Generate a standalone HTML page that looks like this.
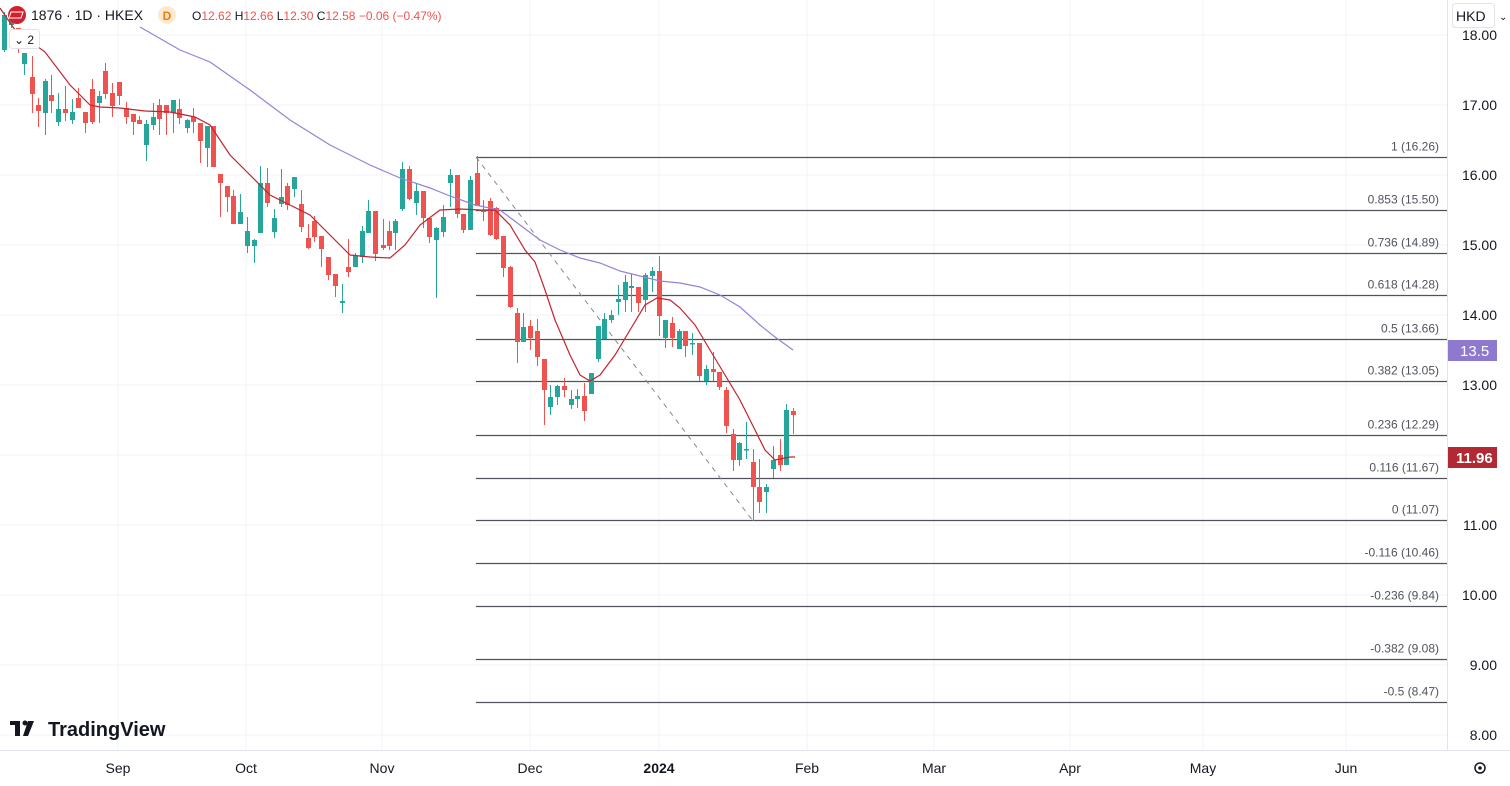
<!DOCTYPE html>
<html><head><meta charset="utf-8"><style>
body{margin:0;width:1510px;height:786px;overflow:hidden;background:#fff;font-family:"Liberation Sans",sans-serif}
svg{position:absolute;left:0;top:0}
</style></head><body>
<svg id="s" width="1510" height="786" xmlns="http://www.w3.org/2000/svg" font-family="Liberation Sans, sans-serif"></svg>
<script>
const S=document.getElementById('s');let h='';
// grid
for(let i=0;i<=10;i++){const y=35+i*70;h+=`<line x1="0" x2="1447" y1="${y}" y2="${y}" stroke="#f0f3fa"/>`;}
[118,246,382,530,659,807,934,1070,1203,1346].forEach(x=>h+=`<line x1="${x}" x2="${x}" y1="0" y2="750" stroke="#f0f3fa"/>`);
// fib
const fib=[["1 (16.26)",16.26],["0.853 (15.50)",15.5],["0.736 (14.89)",14.89],["0.618 (14.28)",14.28],["0.5 (13.66)",13.66],["0.382 (13.05)",13.05],["0.236 (12.29)",12.29],["0.116 (11.67)",11.67],["0 (11.07)",11.07],["-0.116 (10.46)",10.46],["-0.236 (9.84)",9.84],["-0.382 (9.08)",9.08],["-0.5 (8.47)",8.47]];
fib.forEach(f=>{const y=Math.round(35+(18-f[1])*70)+0.5;h+=`<line x1="476" x2="1447" y1="${y}" y2="${y}" stroke="#50535e" stroke-width="1.2"/><text x="1439" y="${y-7}" text-anchor="end" font-size="12" fill="#50535e">${f[0]}</text>`;});
h+=`<line x1="476" y1="157" x2="753" y2="521" stroke="#888" stroke-dasharray="5,5"/>`;
// candles x,o,c,h,l (pixel y), g=green
const C=[[4,15,50,12,52,1],[11,15,25,10,28,1],[18,28,37,28,53,0],[24,53,64,53,75,1],[32,77,94,56,113,0],[38,105,111,98,127,0],[45,81,113,79,135,1],[51,95,101,75,113,0],[58,109,122,93,126,1],[65,109,113,86,121,0],[72,112,120,99,124,1],[78,98,108,88,108,0],[85,112,123,112,133,0],[92,89,122,79,124,0],[99,96,103,91,123,1],[105,71,94,63,99,0],[112,93,106,83,117,0],[119,82,96,82,105,0],[126,108,117,102,124,0],[133,114,122,114,135,0],[139,120,124,116,124,0],[146,124,145,120,161,1],[153,117,125,103,130,1],[159,105,119,99,135,0],[166,105,113,105,135,0],[173,100,113,100,133,1],[179,109,118,99,124,0],[187,120,128,119,133,1],[193,117,122,108,133,0],[200,123,141,123,163,0],[207,126,148,126,167,1],[213,126,167,126,167,0],[220,174,183,174,217,0],[227,186,197,186,212,0],[233,196,224,190,224,0],[240,212,224,194,224,1],[247,231,246,217,253,1],[254,240,246,239,263,1],[260,183,233,166,233,1],[267,183,203,168,207,0],[274,218,232,209,238,1],[281,197,204,169,207,1],[287,186,205,183,210,0],[294,177,189,177,197,1],[301,204,227,190,232,0],[308,238,248,224,249,0],[314,221,237,216,242,0],[321,236,249,236,267,0],[328,257,275,257,280,0],[335,274,286,274,297,0],[342,301,303,284,313,1],[348,267,272,239,277,0],[355,256,267,253,267,1],[362,231,257,226,263,1],[368,211,233,200,233,1],[375,211,254,211,261,0],[383,245,248,219,250,0],[389,231,246,221,250,0],[395,221,233,219,250,1],[402,169,209,162,211,1],[409,169,199,166,200,0],[416,191,203,183,215,1],[423,191,218,191,228,0],[429,218,237,218,243,0],[436,228,240,227,298,1],[443,217,232,205,237,1],[450,175,183,169,207,1],[457,175,214,175,218,0],[463,214,230,214,233,0],[470,180,230,176,230,1],[477,173,206,156,206,0],[483,210,212,200,221,1],[490,201,235,198,236,0],[496,208,239,207,240,0],[503,236,268,236,277,0],[510,267,307,266,308,0],[517,313,342,308,363,0],[523,327,342,313,342,1],[530,326,338,320,350,0],[537,331,357,319,366,0],[544,359,390,359,425,0],[550,397,407,385,415,1],[557,386,397,385,405,1],[564,386,390,378,397,0],[571,399,405,390,409,1],[577,396,399,389,408,1],[584,396,411,383,421,0],[591,373,394,373,394,1],[598,326,359,326,362,1],[604,319,339,313,339,1],[611,315,320,310,323,1],[618,299,302,285,315,1],[625,282,300,275,312,1],[631,286,288,274,312,1],[638,287,303,287,312,0],[645,275,300,273,312,1],[652,271,276,267,292,1],[659,271,316,256,336,0],[665,320,338,320,348,1],[672,323,338,317,347,0],[679,331,349,329,349,1],[685,331,346,331,357,0],[692,343,344,333,355,1],[699,343,376,343,381,0],[706,369,381,365,385,1],[713,369,372,352,381,0],[719,372,387,372,390,0],[726,390,426,387,433,0],[733,434,460,429,471,0],[739,443,460,442,466,1],[746,449,450,422,459,1],[753,462,487,449,521,0],[759,487,502,459,513,0],[766,487,492,484,513,1],[773,460,469,446,478,1],[780,455,465,439,471,0],[786,410,465,404,465,1],[793,411,415,408,434,0]];
C.forEach(c=>{const col=c[5]?'#26a69a':'#ef5350';const t=Math.min(c[1],c[2]),b=Math.max(c[1],c[2]);h+=`<line x1="${c[0]+.5}" x2="${c[0]+.5}" y1="${c[3]}" y2="${c[4]}" stroke="${col}"/><rect x="${c[0]-2}" y="${t}" width="5" height="${Math.max(b-t,1.5)}" fill="${col}"/>`;});
const red=[[0,8],[15,30],[45,52],[70,85],[90,105],[100,107],[120,108],[145,111],[170,112],[195,117],[210,125],[230,155],[250,175],[270,195],[290,205],[310,215],[330,235],[350,255],[370,257],[390,258],[405,245],[420,225],[440,210],[460,209],[480,210],[495,210],[510,225],[525,250],[535,262],[545,290],[555,320],[570,355],[580,375],[590,381],[600,375],[615,355],[630,330],[645,305],[657,298],[670,300],[680,308],[695,325],[710,350],[725,375],[740,400],[755,430],[765,450],[775,460],[790,457],[795,457]];
const pur=[[140,27],[180,50],[210,62],[250,90],[290,120],[330,145],[370,165],[400,178],[430,188],[450,196],[475,205],[500,210],[520,225],[540,240],[560,250],[580,258],[600,263],[620,271],[640,276],[660,281],[680,283],[700,287],[720,295],[740,307],[760,325],[775,337],[793,350]];
h+=`<polyline points="${red.join(' ')}" fill="none" stroke="#c2232f" stroke-width="1.2"/>`;
h+=`<polyline points="${pur.join(' ')}" fill="none" stroke="#9681d6" stroke-width="1.2"/>`;
// right axis
h+=`<rect x="1447" y="0" width="63" height="786" fill="#fff"/><line x1="1447.5" x2="1447.5" y1="0" y2="786" stroke="#e0e3eb"/>`;
for(let i=0;i<=10;i++){const y=35+i*70;h+=`<text x="1497" y="${y+5}" text-anchor="end" font-size="14" fill="#131722">${(18-i).toFixed(2)}</text>`;}
h+=`<rect x="1448" y="340" width="49" height="21" fill="#8d79cd"/><text x="1460" y="356" font-size="15" fill="#fff">13.5</text>`;
h+=`<rect x="1448" y="447" width="49" height="21" fill="#b22833"/><text x="1456" y="463" font-size="15" font-weight="bold" fill="#fff">11.96</text>`;
h+=`<rect x="1452.5" y="3.5" width="42" height="24" rx="3" fill="#fff" stroke="#e0e3eb"/><text x="1456" y="21" font-size="14" fill="#131722">HKD</text><text x="1499" y="20" font-size="10" fill="#131722">⌄</text>`;
// bottom axis
h+=`<rect x="0" y="750" width="1510" height="36" fill="#fff"/><line x1="0" x2="1510" y1="750.5" y2="750.5" stroke="#e0e3eb"/>`;
[["Sep",118],["Oct",246],["Nov",382],["Dec",530],["2024",659],["Feb",807],["Mar",934],["Apr",1070],["May",1203],["Jun",1346]].forEach(m=>h+=`<text x="${m[1]}" y="773" text-anchor="middle" font-size="14" ${m[0]=='2024'?'font-weight="bold"':''} fill="#131722">${m[0]}</text>`);
h+=`<circle cx="1480" cy="768" r="5" fill="none" stroke="#131722" stroke-width="1.5"/><circle cx="1480" cy="768" r="1.8" fill="#131722"/>`;
// header
h+=`<circle cx="17" cy="15" r="9" fill="#d1202e"/><path d="M11 12h12l-2 6H9z" fill="none" stroke="#fff" stroke-width="1"/>`;
h+=`<text x="31" y="20" font-size="14" fill="#131722">1876 · 1D · HKEX</text><circle cx="167" cy="15" r="9" fill="#fde9d1"/><text x="167" y="20" text-anchor="middle" font-size="12" font-weight="bold" fill="#f57c00">D</text>`;
h+=`<text x="192" y="20" font-size="12" fill="#131722">O<tspan fill="#ef5350">12.62</tspan> H<tspan fill="#ef5350">12.66</tspan> L<tspan fill="#ef5350">12.30</tspan> C<tspan fill="#ef5350">12.58 −0.06 (−0.47%)</tspan></text>`;
h+=`<rect x="9.5" y="29.5" width="30" height="19" rx="3" fill="#fff" stroke="#e0e3eb"/><text x="14" y="44" font-size="12" fill="#131722">⌄ 2</text>`;
// logo
h+=`<text x="10" y="736" font-size="22" font-weight="bold" fill="#131722">𝐓▼</text>`;
h+=`<g fill="#131722"><rect x="10" y="721" width="10" height="4"/><rect x="15" y="721" width="5" height="15"/><circle cx="25" cy="723" r="2.5"/><path d="M28 721h6l-6 15h-5z"/></g><text x="48" y="736" font-size="20" font-weight="bold" fill="#131722">TradingView</text>`;
S.innerHTML=h.replace('<text x="10" y="736" font-size="22" font-weight="bold" fill="#131722">𝐓▼</text>','');
</script>
</body></html>
